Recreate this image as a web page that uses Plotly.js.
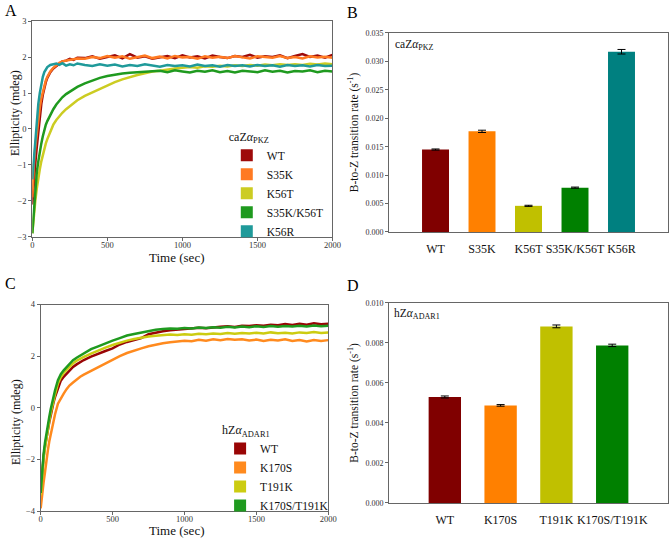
<!DOCTYPE html>
<html>
<head>
<meta charset="utf-8">
<script src="https://cdn.plot.ly/plotly-3.0.1.min.js"></script>
<style>html,body{margin:0;padding:0;background:#fff;}#chart{width:669px;height:546px;}</style>
</head>
<body>
<div id="chart"></div>
<script>
// ---------- Panel A: caZalpha_PKZ time course ----------
const timeA = [0,5,10,20,30,40,50,60,70,80,90,100,120,140,160,180,200,225,250,275,300,
  350,400,450,500,550,600,650,700,750,800,850,900,950,1000,1050,1100,1150,1200,1250,1300,
  1350,1400,1450,1500,1550,1600,1650,1700,1750,1800,1850,1900,1950,2000];
const namesA = ['WT','S35K','K56T','S35K/K56T','K56R'];
const a_WT = [-2.1,-1.75,-1.5,-0.95,-0.5,-0.05,0.4,0.7,0.95,1.15,1.3,1.42,1.58,1.68,1.74,1.8,1.88,1.9,1.95,1.92,1.98,
  1.97,2.02,1.95,2.0,2.05,1.96,2.08,1.98,2.02,1.95,2.0,2.03,1.97,2.05,1.99,2.02,1.96,2.04,2.0,1.97,2.03,2.0,2.06,1.98,2.02,2.0,2.05,1.97,2.03,2.08,2.0,2.04,1.98,2.06];
const a_S35K = [-1.9,-1.4,-1.0,-0.5,-0.1,0.3,0.6,0.85,1.05,1.2,1.35,1.45,1.6,1.7,1.78,1.84,1.88,1.9,1.93,1.95,1.96,
  1.95,2.0,1.97,2.03,1.98,2.02,1.95,2.0,2.04,1.97,2.01,1.96,2.03,1.99,2.0,1.95,2.02,1.98,2.01,1.97,2.03,1.99,1.96,2.02,2.0,1.98,2.03,1.97,2.0,1.96,2.02,1.99,2.01,1.98];
const a_K56T = [-2.9,-2.6,-2.35,-2.0,-1.65,-1.35,-1.12,-0.9,-0.72,-0.55,-0.4,-0.28,-0.05,0.12,0.25,0.36,0.45,0.55,0.63,0.72,0.8,
  0.92,1.02,1.12,1.22,1.3,1.38,1.45,1.5,1.55,1.6,1.62,1.66,1.68,1.7,1.72,1.7,1.74,1.73,1.76,1.74,1.77,1.75,1.78,1.76,1.79,1.77,1.8,1.78,1.8,1.78,1.81,1.79,1.82,1.8];
const a_S35K_K56T = [-2.9,-2.6,-2.3,-1.6,-1.2,-0.9,-0.6,-0.4,-0.2,-0.02,0.12,0.22,0.4,0.55,0.68,0.79,0.88,0.97,1.04,1.11,1.17,
  1.27,1.35,1.42,1.47,1.51,1.54,1.56,1.58,1.59,1.6,1.62,1.58,1.63,1.6,1.57,1.62,1.59,1.63,1.58,1.61,1.57,1.62,1.6,1.58,1.63,1.59,1.62,1.57,1.61,1.6,1.63,1.58,1.62,1.6];
const a_K56R = [-1.4,-1.1,-0.8,-0.2,0.3,0.7,1.0,1.25,1.45,1.58,1.66,1.72,1.78,1.8,1.82,1.78,1.83,1.76,1.8,1.77,1.82,
  1.78,1.75,1.8,1.76,1.79,1.74,1.78,1.75,1.8,1.76,1.73,1.78,1.75,1.77,1.74,1.79,1.75,1.77,1.73,1.78,1.75,1.77,1.74,1.78,1.75,1.77,1.73,1.78,1.75,1.77,1.74,1.78,1.75,1.76];
const seriesA = [a_WT, a_S35K, a_K56T, a_S35K_K56T, a_K56R];
const lineColorsA = ['#9e0a0a','#ff7a22','#cccc22','#1f9a1f','#1f9a9a'];

// ---------- Panel B: caZalpha_PKZ rates ----------
const catsB = ['WT','S35K','K56T','S35K/K56T','K56R'];
const ratesB = [0.0145,0.0177,0.0046,0.0078,0.0317];
const errB = [0.0001,0.0002,0.0001,0.0001,0.0004];
const barColorsB = ['#800000','#ff8000','#c0c000','#008000','#008080'];

// ---------- Panel C: hZalpha_ADAR1 time course ----------
const timeC = [0,5,10,20,30,40,50,60,70,80,90,100,120,140,160,180,200,225,250,275,300,
  350,400,450,500,550,600,650,700,750,800,850,900,950,1000,1050,1100,1150,1200,1250,1300,
  1350,1400,1450,1500,1550,1600,1650,1700,1750,1800,1850,1900,1950,2000];
const namesC = ['WT','K170S','T191K','K170S/T191K'];
const c_WT = [-3.3,-2.9,-2.5,-1.9,-1.5,-1.15,-0.85,-0.55,-0.3,0.0,0.22,0.42,0.78,1.05,1.2,1.33,1.45,1.58,1.68,1.78,1.85,
  1.98,2.1,2.2,2.3,2.45,2.55,2.62,2.7,2.85,2.92,2.96,3.0,3.02,3.05,3.07,3.1,3.08,3.12,3.14,3.16,3.13,3.18,3.17,3.2,3.18,3.22,3.2,3.24,3.21,3.25,3.22,3.27,3.24,3.25];
const c_K170S = [-3.9,-3.6,-3.3,-2.9,-2.5,-2.0,-1.65,-1.3,-1.0,-0.7,-0.45,-0.25,0.16,0.38,0.55,0.72,0.86,0.98,1.1,1.2,1.28,
  1.43,1.58,1.73,1.86,2.0,2.12,2.22,2.3,2.38,2.45,2.5,2.54,2.58,2.6,2.58,2.63,2.6,2.65,2.62,2.66,2.63,2.65,2.61,2.64,2.59,2.63,2.61,2.65,2.59,2.62,2.57,2.62,2.59,2.62];
const c_T191K = [-3.4,-3.0,-2.6,-2.0,-1.55,-1.15,-0.82,-0.5,-0.2,0.08,0.32,0.52,0.94,1.18,1.35,1.47,1.58,1.72,1.82,1.9,1.97,
  2.1,2.23,2.33,2.43,2.52,2.6,2.66,2.72,2.76,2.79,2.81,2.84,2.82,2.85,2.83,2.87,2.85,2.88,2.86,2.9,2.87,2.9,2.88,2.91,2.88,2.92,2.89,2.91,2.88,2.92,2.9,2.93,2.9,2.92];
const c_K170S_T191K = [-3.3,-2.8,-2.4,-1.8,-1.35,-0.95,-0.7,-0.35,-0.05,0.22,0.48,0.68,1.07,1.3,1.45,1.58,1.7,1.84,1.94,2.03,2.12,
  2.27,2.38,2.5,2.6,2.7,2.8,2.86,2.92,2.97,3.02,3.05,3.07,3.06,3.09,3.07,3.11,3.09,3.12,3.1,3.14,3.11,3.15,3.12,3.16,3.13,3.17,3.14,3.17,3.15,3.18,3.15,3.19,3.16,3.18];
const seriesC = [c_WT, c_K170S, c_T191K, c_K170S_T191K];
const lineColorsC = ['#990505','#ff8a1e','#cccc11','#1f9a1f'];

// ---------- Panel D: hZalpha_ADAR1 rates ----------
const catsD = ['WT','K170S','T191K','K170S/T191K'];
const ratesD = [0.0053,0.00488,0.00883,0.00788];
const errD = [0.00005,0.00004,0.00007,0.00006];
const barColorsD = ['#800000','#ff8000','#c0c000','#008000'];

const SERIF = '"Liberation Serif", Tinos, "Times New Roman", "DejaVu Serif", "Noto Serif", serif';
const traces = [];

seriesA.forEach((ys, i) => {
  traces.push({type:'scatter', mode:'lines', x: timeA, y: ys, xaxis:'x', yaxis:'y',
    line:{color: lineColorsA[i], width:2.5}, showlegend:false, hoverinfo:'skip'});
});
namesA.forEach((n, i) => {
  traces.push({type:'scatter', mode:'markers', x:[null], y:[null], xaxis:'x', yaxis:'y', name:n,
    marker:{symbol:'square', size:12, color: lineColorsA[i]}, legend:'legend'});
});
traces.push({type:'bar', x: catsB, y: ratesB, xaxis:'x2', yaxis:'y2', width:0.58,
  marker:{color: barColorsB}, showlegend:false,
  error_y:{type:'data', array: errB, visible:true, color:'#000', thickness:1, width:4}});

seriesC.forEach((ys, i) => {
  traces.push({type:'scatter', mode:'lines', x: timeC, y: ys, xaxis:'x3', yaxis:'y3',
    line:{color: lineColorsC[i], width:2.5}, showlegend:false, hoverinfo:'skip'});
});
namesC.forEach((n, i) => {
  traces.push({type:'scatter', mode:'markers', x:[null], y:[null], xaxis:'x3', yaxis:'y3', name:n,
    marker:{symbol:'square', size:12, color: lineColorsC[i]}, legend:'legend2'});
});
traces.push({type:'bar', x: catsD, y: ratesD, xaxis:'x4', yaxis:'y4', width:0.58,
  marker:{color: barColorsD}, showlegend:false,
  error_y:{type:'data', array: errD, visible:true, color:'#000', thickness:1, width:4}});

const tickFont = {family: SERIF, size: 8.5, color:'#333'};
const base = {showline:true, linecolor:'#666', linewidth:1, mirror:true, showgrid:false, zeroline:false,
  ticks:'outside', ticklen:3, tickcolor:'#666', tickfont: tickFont, automargin:false};

const layout = {
  width:669, height:546, margin:{l:0,r:0,t:0,b:0}, paper_bgcolor:'#fff', plot_bgcolor:'#fff',
  font:{family: SERIF, color:'#111'},
  xaxis: Object.assign({}, base, {domain:[0.0483,0.497], range:[0,2000], dtick:500, anchor:'y', ticklabelstandoff:-3}),
  yaxis: Object.assign({}, base, {domain:[0.566,0.9615], range:[-3,3], dtick:1, anchor:'x'}),
  xaxis2: Object.assign({}, base, {domain:[0.5815,0.9985], range:[-1,5], anchor:'y2', type:'category',
    ticks:'outside', ticklen:6, tickcolor:'rgba(0,0,0,0)', tickfont:{family:SERIF, size:12, color:'#111'}}),
  yaxis2: Object.assign({}, base, {domain:[0.5751,0.9396], range:[0,0.035], dtick:0.005, tickformat:'.3f', anchor:'x2',
    tickfont:{family:SERIF, size:8, color:'#333'},
    title:{text:'B-to-Z transition rate (s<sup>-1</sup>)', font:{family:SERIF, size:11.5, color:'#111'}, standoff:4}}),
  xaxis3: Object.assign({}, base, {domain:[0.0608,0.4907], range:[0,2000], dtick:500, anchor:'y3', ticklabelstandoff:-3}),
  yaxis3: Object.assign({}, base, {domain:[0.0641,0.4423], range:[-4,4], dtick:2, anchor:'x3'}),
  xaxis4: Object.assign({}, base, {domain:[0.5815,0.9985], range:[-1,4], anchor:'y4', type:'category',
    ticks:'outside', ticklen:6, tickcolor:'rgba(0,0,0,0)', tickfont:{family:SERIF, size:12, color:'#111'}}),
  yaxis4: Object.assign({}, base, {domain:[0.0788,0.4451], range:[0,0.010], dtick:0.002, tickformat:'.3f', anchor:'x4',
    tickfont:{family:SERIF, size:8, color:'#333'},
    title:{text:'B-to-Z transition rate (s<sup>-1</sup>)', font:{family:SERIF, size:11.5, color:'#111'}, standoff:4}}),
  legend:{x:0.339, y:0.771, xanchor:'left', yanchor:'top', bgcolor:'rgba(0,0,0,0)',
    font:{family:SERIF, size:11.5, color:'#111'}, tracegroupgap:0,
    title:{text:'caZ<i>α</i><sub>PKZ</sub>', font:{family:SERIF, size:12, color:'#111'}}},
  legend2:{x:0.329, y:0.2335, xanchor:'left', yanchor:'top', bgcolor:'rgba(0,0,0,0)',
    font:{family:SERIF, size:11.5, color:'#111'}, tracegroupgap:0,
    title:{text:'hZ<i>α</i><sub>ADAR1</sub>', font:{family:SERIF, size:12, color:'#111'}}},
  annotations:[
    {text:'A', x:3/669, y:1-10/546, xref:'paper', yref:'paper', xanchor:'left', yanchor:'middle', showarrow:false, font:{family:SERIF, size:16, color:'#000'}},
    {text:'B', x:345/669, y:1-12/546, xref:'paper', yref:'paper', xanchor:'left', yanchor:'middle', showarrow:false, font:{family:SERIF, size:16, color:'#000'}},
    {text:'C', x:3/669, y:1-283/546, xref:'paper', yref:'paper', xanchor:'left', yanchor:'middle', showarrow:false, font:{family:SERIF, size:16, color:'#000'}},
    {text:'D', x:345/669, y:1-285/546, xref:'paper', yref:'paper', xanchor:'left', yanchor:'middle', showarrow:false, font:{family:SERIF, size:16, color:'#000'}},
    {text:'caZ<i>α</i><sub>PKZ</sub>', x:393/669, y:1-45/546, xref:'paper', yref:'paper', xanchor:'left', yanchor:'middle', showarrow:false, font:{family:SERIF, size:11.5, color:'#111'}},
    {text:'hZ<i>α</i><sub>ADAR1</sub>', x:392/669, y:1-314/546, xref:'paper', yref:'paper', xanchor:'left', yanchor:'middle', showarrow:false, font:{family:SERIF, size:11.5, color:'#111'}},
    // axis titles for the two time-course panels
    {text:'Time (sec)', x:177/669, y:1-257/546, xref:'paper', yref:'paper', xanchor:'center', yanchor:'middle', showarrow:false, font:{family:SERIF, size:13, color:'#111'}},
    {text:'Ellipticity (mdeg)', x:15/669, y:1-113/546, xref:'paper', yref:'paper', xanchor:'center', yanchor:'middle', textangle:-90, showarrow:false, font:{family:SERIF, size:12, color:'#111'}},
    {text:'Time (sec)', x:177/669, y:1-530/546, xref:'paper', yref:'paper', xanchor:'center', yanchor:'middle', showarrow:false, font:{family:SERIF, size:13, color:'#111'}},
    {text:'Ellipticity (mdeg)', x:16/669, y:1-422/546, xref:'paper', yref:'paper', xanchor:'center', yanchor:'middle', textangle:-90, showarrow:false, font:{family:SERIF, size:12, color:'#111'}}
  ]
};

Plotly.newPlot('chart', traces, layout, {staticPlot:true, displayModeBar:false});
</script>
</body>
</html>
